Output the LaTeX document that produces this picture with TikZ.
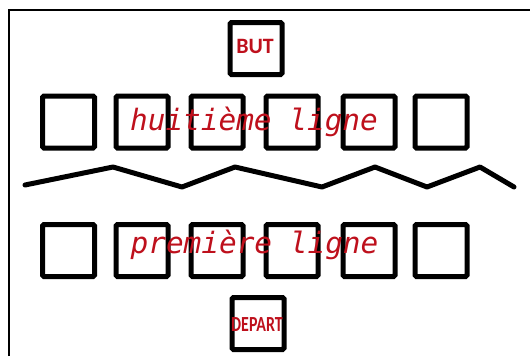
\documentclass[tikz,border=0pt]{standalone}
\usepackage{fontspec}
\newfontfamily\monof{DejaVu Sans Mono}
\newfontfamily\labf{Carlito}
\definecolor{lblred}{RGB}{190,16,28}
\begin{document}
\begin{tikzpicture}[x=1bp,y=-1bp,
  cell/.style={draw=black,line width=5bp,minimum size=52bp,inner sep=0pt,rounded corners=1.5bp},
  rowtext/.style={text=lblred,font=\monof\itshape\fontsize{29.5}{29.5}\selectfont,inner sep=0pt,anchor=base},
  tag/.style={text=lblred,font=\labf\bfseries,inner sep=0pt}]
\useasboundingbox (0,0) rectangle (530,356);
\draw[line width=2bp] (9,356) -- (9,10) -- (530,10);
% top
\node[cell] (but) at (256,48.5) {};
\node[tag,font=\labf\bfseries\fontsize{22}{22}\selectfont] (butl) at (255,46) {BUT};
\foreach \i/\x in {1/68.5,2/142,3/217,4/292,5/369,6/441}{
  \node[cell] (h\i) at (\x,122) {};
  \node[cell] (p\i) at (\x,250.5) {};
}
\node[cell] (dep) at (258,323.5) {};
\node[tag,font=\labf\bfseries\fontsize{16}{16}\selectfont] (depl) at (257,325) {\scalebox{1}[1.35]{DEPART}};
\node[rowtext] (ht) at (254,130.5) {huitième ligne};
\node[rowtext] (pt) at (254.5,253.5) {première ligne};
\draw[line width=5bp,line join=round,line cap=round]
  (25,185) -- (113,167) -- (182,187) -- (235,167) -- (322,187) -- (375,167) -- (427,187) -- (480,167) -- (514,187);
\end{tikzpicture}
\end{document}
